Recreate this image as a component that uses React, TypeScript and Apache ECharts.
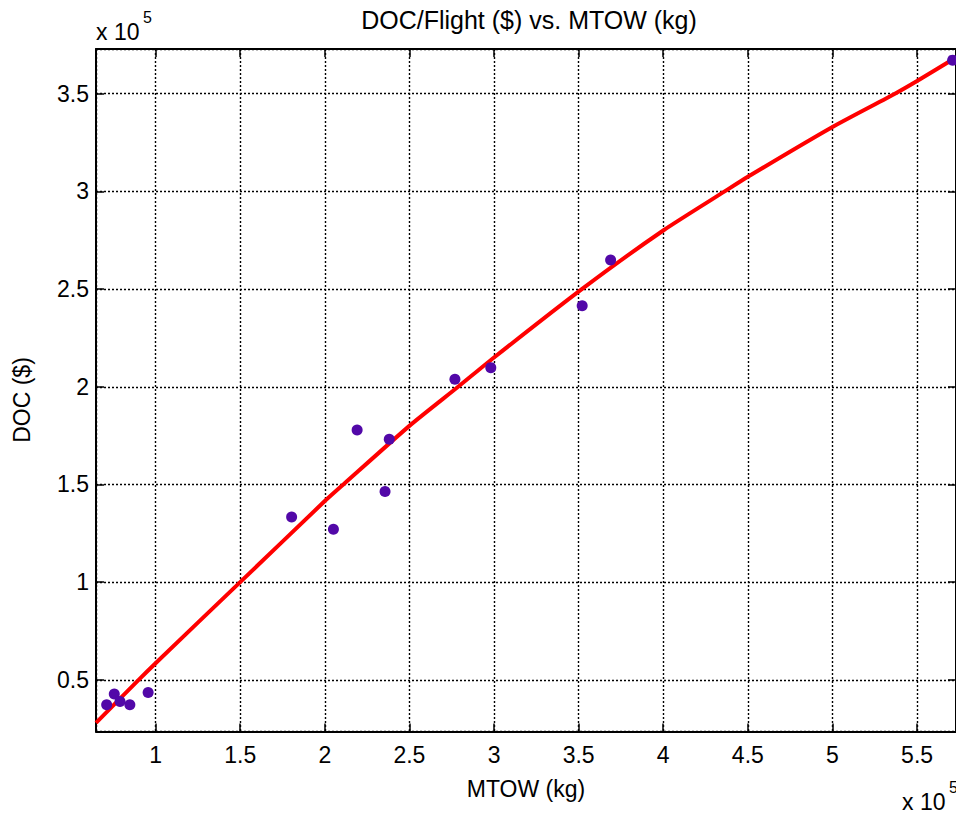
import React, { useEffect, useRef } from "react";
import * as echarts from "echarts";

// Scatter data: MTOW (kg) and DOC per flight ($)
const mtowPoints = [71100, 75600, 79000, 84800, 95600, 180400, 205100, 219100, 238100, 235600, 276900, 298100, 352100, 368900, 571000];
const docPoints = [37200, 42700, 38900, 37200, 43500, 133300, 127100, 177900, 173200, 146400, 203900, 209800, 241500, 264900, 367200];

// Fitted curve
const fitMtow = [64800, 90000, 100000, 150000, 200000, 211600, 250000, 278800, 300000, 351900, 400000, 436300, 450000, 500000, 536900, 550000, 571000];
const fitDoc = [28000, 50000, 58500, 100000, 141500, 150500, 180000, 200000, 215000, 250000, 280000, 300000, 307500, 333000, 350000, 356500, 367500];

const titleText = "DOC/Flight ($) vs. MTOW (kg)";
const xName = "MTOW (kg)";
const yName = "DOC ($)";
const xMin = 64800;
const xMax = 573000;
const yMin = 23550;
const yMax = 372900;
const tickStep = 50000;

const FONT = "Liberation Sans, Arial, Helvetica, sans-serif";

export default function App() {
  const ref = useRef<HTMLDivElement>(null);
  useEffect(() => {
    if (!ref.current) return;
    const chart = echarts.init(ref.current, null, { renderer: "svg" });
    const fmt = (v: number) => String(+(v / 1e5).toFixed(2));
    const axisLine = { show: true, lineStyle: { color: "#000", width: 2 } };
    const tick = { show: true, inside: true, length: 8, lineStyle: { color: "#000", width: 1.5 } };
    const split = { show: true, lineStyle: { color: "#000", type: [2, 2] as any, width: 1.4 } };
    const label = {
      color: "#000",
      fontFamily: FONT,
      fontSize: 23,
      showMinLabel: false,
      showMaxLabel: false,
      formatter: fmt,
    };
    chart.setOption({
      animation: false,
      backgroundColor: "#fff",
      grid: { left: 96, top: 49, right: -2, bottom: 84.5, containLabel: false },
      xAxis: [
        {
          type: "value",
          min: xMin,
          max: xMax,
          minInterval: tickStep,
          maxInterval: tickStep,
          splitNumber: 10,
          axisLine,
          axisTick: tick,
          splitLine: split,
          axisLabel: { ...label, margin: 12 },
        },
        {
          type: "value",
          position: "top",
          min: xMin,
          max: xMax,
          minInterval: tickStep,
          maxInterval: tickStep,
          splitNumber: 10,
          axisLine,
          axisTick: tick,
          splitLine: { show: false },
          axisLabel: { show: false },
        },
      ],
      yAxis: [
        {
          type: "value",
          min: yMin,
          max: yMax,
          minInterval: tickStep,
          maxInterval: tickStep,
          splitNumber: 7,
          axisLine,
          axisTick: tick,
          splitLine: split,
          axisLabel: { ...label, margin: 7 },
        },
        {
          type: "value",
          position: "right",
          min: yMin,
          max: yMax,
          minInterval: tickStep,
          maxInterval: tickStep,
          splitNumber: 7,
          axisLine,
          axisTick: tick,
          splitLine: { show: false },
          axisLabel: { show: false },
        },
      ],
      series: [
        {
          type: "line",
          data: fitMtow.map((x, i) => [x, fitDoc[i]]),
          showSymbol: false,
          symbol: "none",
          smooth: 0.2,
          lineStyle: { color: "#ff0000", width: 4 },
          z: 2,
          clip: true,
        },
        {
          type: "scatter",
          data: mtowPoints.map((x, i) => [x, docPoints[i]]),
          symbol: "circle",
          symbolSize: 11,
          itemStyle: { color: "#5208a8", opacity: 1 },
          z: 3,
        },
      ],
      graphic: [
        {
          type: "text",
          x: 529,
          y: 20,
          style: { text: titleText, fill: "#000", font: `25px ${FONT}`, align: "center", verticalAlign: "middle" },
        },
        {
          type: "text",
          x: 526,
          y: 789,
          style: { text: xName, fill: "#000", font: `23px ${FONT}`, align: "center", verticalAlign: "middle" },
        },
        {
          type: "text",
          x: 22,
          y: 400,
          rotation: Math.PI / 2,
          style: { text: yName, fill: "#000", font: `23px ${FONT}`, align: "center", verticalAlign: "middle" },
        },
        {
          type: "text",
          x: 96,
          y: 32,
          style: { text: "x 10", fill: "#000", font: `23px ${FONT}`, align: "left", verticalAlign: "middle" },
        },
        {
          type: "text",
          x: 143,
          y: 17,
          style: { text: "5", fill: "#000", font: `16px ${FONT}`, align: "left", verticalAlign: "middle" },
        },
        {
          type: "text",
          x: 902,
          y: 802,
          style: { text: "x 10", fill: "#000", font: `23px ${FONT}`, align: "left", verticalAlign: "middle" },
        },
        {
          type: "text",
          x: 949,
          y: 787,
          style: { text: "5", fill: "#000", font: `16px ${FONT}`, align: "left", verticalAlign: "middle" },
        },
      ],
    });
    return () => chart.dispose();
  }, []);
  return (
    <div
      ref={ref}
      style={{ position: "absolute", left: 0, top: 0, width: 956, height: 816, background: "#fff" }}
    />
  );
}
